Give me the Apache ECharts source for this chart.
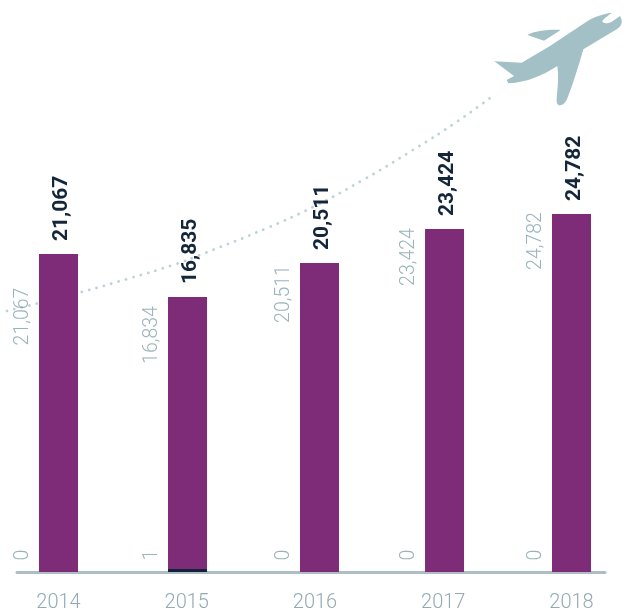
<!DOCTYPE html>
<html>
<head>
<meta charset="utf-8">
<style>
  html, body { margin: 0; padding: 0; background: #fff; }
  #chart { width: 629px; height: 616px; }
</style>
<script src="https://cdn.jsdelivr.net/npm/echarts@6/dist/echarts.min.js"></script>
</head>
<body>
<div id="chart"></div>
<script>
// 印刷的数字
var years = [2014, 2015, 2016, 2017, 2018]
var totalLabels = ['21,067', '16,835', '20,511', '23,424', '24,782']
var mainLabels = ['21,067', '16,834', '20,511', '23,424', '24,782']
var smallLabels = ['0', '1', '0', '0', '0']

// 柱子在原图里不与印刷数字成比例，所以高度按图上量出来
var barYears = [2014, 2015.006, 2016.035, 2017.01, 2018]
var barHeights = [22028, 19050, 21405, 23760, 24800]
var darkHeights = [0, 208, 0, 0, 0]

// 竖排灰色数字的中心高度
var mainLabelAt = [17699, 16417, 19257, 21820, 22929]
var smallLabelAt = [1178, 1178, 1178, 1178, 1178]

// 虚线轨迹
var pathYears = [2013.598, 2014.152, 2014.534, 2014.893, 2015.142, 2015.626, 2015.984, 2016.374, 2016.764, 2017.092, 2017.39]
var pathValues = [18080, 19327, 20296, 21266, 22097, 23829, 25284, 27154, 29233, 31103, 33000]

var planePath = 'M515,38 C490,42 460,50 435,68 L330,138 L245,188 L163,184 L222,228 L200,240 L205,250 C260,248 310,225 352,198 C358,240 350,280 350,305 C352,322 370,318 380,300 C400,250 418,190 430,148 L530,88 C545,78 550,65 540,48 L520,62 C505,72 488,72 487,64 C490,55 505,48 515,38 Z M262,105 C285,92 330,88 362,90 L312,122 Z'

function pairs (xs, ys) {
  return xs.map(function (x, i) { return [x, ys[i]] })
}

var chart = echarts.init(document.getElementById('chart'))

var greyLabel = {
  show: true,
  position: 'inside',
  rotate: 90,
  align: 'center',
  verticalAlign: 'middle',
  // 旋转后的坐标系，y 负方向就是屏幕左边
  offset: [0, -35.5],
  color: '#7fa0a9',
  fontFamily: 'Roboto',
  fontWeight: 300,
  fontSize: 19.5
}

chart.setOption({
  animation: false,
  backgroundColor: '#fff',
  // 第二个 grid 铺满宽度，给伸出坐标轴左边的虚线用
  grid: [
    { left: 17, right: 24, top: 9, bottom: 44 },
    { left: 0, right: 0, top: 9, bottom: 44 }
  ],
  xAxis: [
    {
      type: 'value',
      min: 2013.6764,
      max: 2018.2612,
      offset: 1,
      splitLine: { show: false },
      axisTick: { show: false },
      axisLine: { show: true, lineStyle: { color: '#adbfc5', width: 3 } },
      axisLabel: {
        customValues: years,
        formatter: function (v) { return String(v) },
        color: '#93aab2',
        fontFamily: 'Roboto',
        fontWeight: 300,
        fontSize: 20,
        margin: 20
      }
    },
    {
      type: 'value',
      gridIndex: 1,
      min: 2013.5439,
      max: 2018.4483,
      show: false,
      splitLine: { show: false }
    }
  ],
  yAxis: [
    { type: 'value', min: 0, max: 39000, show: false, splitLine: { show: false } },
    { type: 'value', gridIndex: 1, min: 0, max: 39000, show: false, splitLine: { show: false } }
  ],
  series: [
    {
      name: 'path',
      type: 'line',
      xAxisIndex: 1,
      yAxisIndex: 1,
      z: 1,
      smooth: true,
      showSymbol: false,
      silent: true,
      data: pairs(pathYears, pathValues),
      lineStyle: { color: '#bfd3d7', width: 2.8, type: [0.1, 7.6], cap: 'round' }
    },
    {
      name: 'total',
      type: 'bar',
      z: 2,
      barWidth: 39,
      barGap: '-100%',
      data: pairs(barYears, barHeights),
      itemStyle: { color: '#7e2b78' },
      label: {
        show: true,
        position: 'top',
        distance: 13,
        rotate: 90,
        align: 'left',
        verticalAlign: 'middle',
        offset: [0, 3],
        color: '#14263a',
        fontFamily: 'Roboto',
        fontWeight: 'bold',
        fontSize: 21,
        formatter: function (p) { return totalLabels[p.dataIndex] }
      }
    },
    {
      name: 'dark',
      type: 'bar',
      z: 3,
      barWidth: 39,
      barGap: '-100%',
      data: pairs(barYears, darkHeights),
      itemStyle: { color: '#14213a' }
    },
    {
      name: 'main labels',
      type: 'scatter',
      z: 4,
      symbolSize: 0,
      silent: true,
      data: pairs(barYears, mainLabelAt),
      label: Object.assign({}, greyLabel, {
        formatter: function (p) { return mainLabels[p.dataIndex] }
      })
    },
    {
      name: 'small labels',
      type: 'scatter',
      z: 4,
      symbolSize: 0,
      silent: true,
      data: pairs(barYears, smallLabelAt),
      label: Object.assign({}, greyLabel, {
        formatter: function (p) { return smallLabels[p.dataIndex] }
      })
    },
    // 飞机图标
    {
      name: 'plane',
      type: 'custom',
      z: 5,
      silent: true,
      data: [[2014, 0]],
      renderItem: function () {
        return {
          type: 'path',
          x: 440,
          y: 0,
          scaleX: 1 / 3,
          scaleY: 1 / 3,
          shape: { pathData: planePath },
          style: { fill: '#a2c0c6' }
        }
      }
    }
  ]
})
</script>
</body>
</html>
